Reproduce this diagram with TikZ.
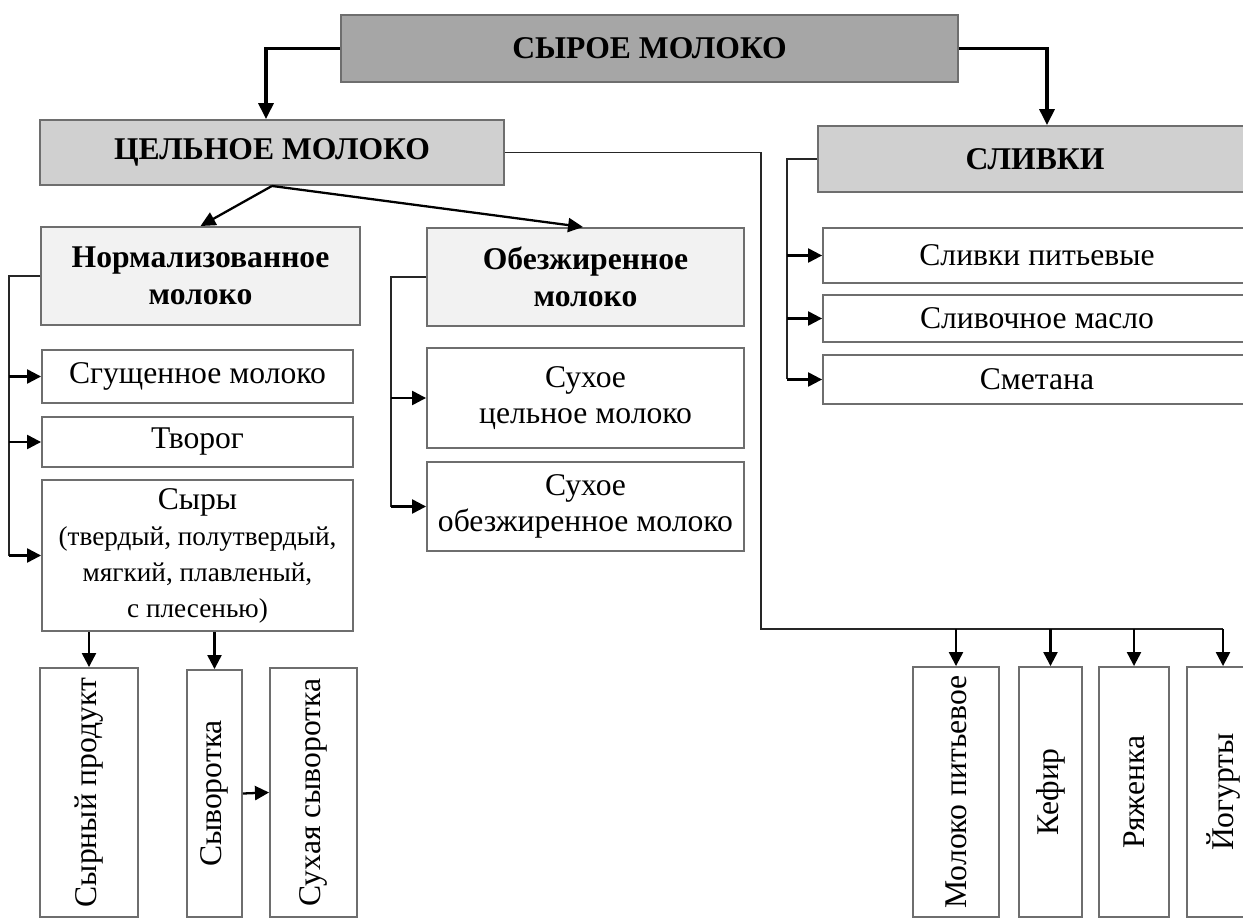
\documentclass[tikz,border=0pt]{standalone}
\usepackage{fontspec}
\setmainfont{Liberation Serif}
\usepackage{graphicx}
\usepackage{xcolor}
\usepackage{tikz}
\usetikzlibrary{arrows.meta}
\definecolor{rawgray}{HTML}{A6A6A6}
\definecolor{midgray}{HTML}{D0D0D0}
\definecolor{palegray}{HTML}{F2F2F2}
\definecolor{edgegray}{HTML}{6E6E6E}
\tikzset{
  box/.style={draw=edgegray, line width=1.1pt, fill=white, inner sep=0pt, align=center, font=\fontsize{18}{20.5}\selectfont},
  headbox/.style={box, font=\fontsize{18}{21}\selectfont\bfseries},
  busline/.style={draw=black!85, line width=0.75pt},
  feed/.style={line width=1.3pt, -{Triangle[length=8pt,width=8pt]}},
  mainfeed/.style={line width=1.8pt, -{Triangle[length=9pt,width=8.5pt]}},
  splitfeed/.style={line width=1.3pt, -{Triangle[length=8.5pt,width=8pt]}}
}

\begin{document}
\begin{tikzpicture}[x=0.02cm, y=-0.02cm]
                \useasboundingbox (0,0) rectangle (1243,918);
                \node[headbox, fill=rawgray, minimum width=12.34cm, minimum height=1.34cm] (raw) at (649.5,48.5) {СЫРОЕ МОЛОКО};
                \node[headbox, fill=midgray, minimum width=9.28cm, minimum height=1.30cm] (whole) at (272,152.5) {ЦЕЛЬНОЕ МОЛОКО};
                \node[headbox, fill=midgray, minimum width=8.68cm, minimum height=1.32cm] (cream) at (1035,159) {СЛИВКИ};
                \node[headbox, fill=palegray, minimum width=6.38cm, minimum height=1.96cm] (norm) at (200.5,276) {Нормализованное\\молоко};
                \node[headbox, fill=palegray, minimum width=6.34cm, minimum height=1.96cm] (skim) at (585.5,277) {Обезжиренное\\молоко};
                \node[box, minimum width=6.22cm, minimum height=1.06cm] (condensed) at (197.5,376.5) {Сгущенное молоко};
                \node[box, minimum width=6.22cm, minimum height=1.0cm] (curd) at (197.5,442) {Творог};
                \node[box, minimum width=6.22cm, minimum height=3.02cm] (cheese) at (197.5,555.5) {Сыры\\{\fontsize{15.5}{19}\selectfont (твердый, полутвердый,}\\{\fontsize{15.5}{19}\selectfont мягкий, плавленый,}\\{\fontsize{15.5}{19}\selectfont с плесенью)}};
                \node[box, minimum width=6.34cm, minimum height=2.0cm] (drywhole) at (585.5,398) {Сухое\\цельное молоко};
                \node[box, minimum width=6.34cm, minimum height=1.78cm] (dryskim) at (585.5,506.5) {Сухое\\обезжиренное молоко};
                \node[box, minimum width=8.56cm, minimum height=1.1cm] (drinkcream) at (1037,255.5) {Сливки питьевые};
                \node[box, minimum width=8.56cm, minimum height=0.94cm] (butter) at (1037,318.5) {Сливочное масло};
                \node[box, minimum width=8.56cm, minimum height=0.98cm] (sour) at (1037,379.5) {Сметана};
                \node[box, minimum width=1.96cm, minimum height=4.98cm] (cheeseprod) at (89,792.5) {\rotatebox{90}{Сырный продукт}};
                \node[box, minimum width=1.1cm, minimum height=4.94cm] (whey) at (214.5,793.5) {\rotatebox{90}{Сыворотка}};
                \node[box, minimum width=1.74cm, minimum height=4.98cm] (drywhey) at (313.5,792.5) {\rotatebox{90}{Сухая сыворотка}};
                \node[box, minimum width=1.72cm, minimum height=5.0cm] (drinkmilk) at (956,792) {\rotatebox{90}{Молоко питьевое}};
                \node[box, minimum width=1.26cm, minimum height=5.0cm] (kefir) at (1050.5,792) {\rotatebox{90}{Кефир}};
                \node[box, minimum width=1.4cm, minimum height=5.0cm] (ryazh) at (1134,792) {\rotatebox{90}{Ряженка}};
                \node[box, minimum width=1.44cm, minimum height=5.0cm] (yogurt) at (1223,792) {\rotatebox{90}{Йогурты}};
                \path (norm.west) ++(-31,0) coordinate (normbus);
                \path (skim.west) ++(-35,0) coordinate (skimbus);
                \path (cream.west) ++(-30,0) coordinate (creambus);
                \coordinate (wholebus) at (761,629);
                \draw[mainfeed] (raw.west) -| ([xshift=-0.12cm]whole.north);
                \draw[mainfeed] (raw.east) -| ([xshift=0.24cm]cream.north);
                \draw[splitfeed] (whole.south) -- (norm.north);
                \draw[splitfeed] (whole.south) -- ([xshift=-0.05cm]skim.north);
                \draw[busline] (norm.west) -- (normbus) -- (normbus |- cheese.west);
                \draw[feed] (normbus |- condensed.west) -- (condensed.west);
                \draw[feed] (normbus |- curd.west) -- (curd.west);
                \draw[feed] (normbus |- cheese.west) -- (cheese.west);
                \draw[busline] (skim.west) -- (skimbus) -- (skimbus |- dryskim.west);
                \draw[feed] (skimbus |- drywhole.west) -- (drywhole.west);
                \draw[feed] (skimbus |- dryskim.west) -- (dryskim.west);
                \draw[busline] (cream.west) -- (creambus) -- (creambus |- sour.west);
                \draw[feed] (creambus |- drinkcream.west) -- (drinkcream.west);
                \draw[feed] (creambus |- butter.west) -- (butter.west);
                \draw[feed] (creambus |- sour.west) -- (sour.west);
                \draw[feed] (cheese.south -| cheeseprod.north) -- (cheeseprod.north);
                \draw[feed] (cheese.south -| whey.north) -- (whey.north);
                \draw[feed] (whey.east) -- (drywhey.west);
                \draw[busline] (whole.east) -| (wholebus) -- (wholebus -| yogurt.north);
                \draw[feed] (wholebus -| drinkmilk.north) -- (drinkmilk.north);
                \draw[feed] (wholebus -| kefir.north) -- (kefir.north);
                \draw[feed] (wholebus -| ryazh.north) -- (ryazh.north);
                \draw[feed] (wholebus -| yogurt.north) -- (yogurt.north);
            \end{tikzpicture}
\end{document}
